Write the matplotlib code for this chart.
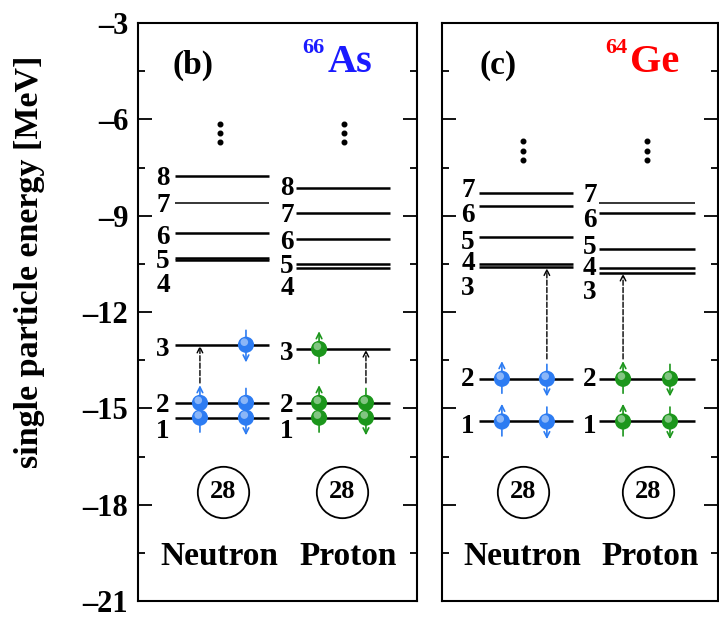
"""
single particle levels of 66As and 64Ge, neutron and proton columns
"""
import matplotlib
matplotlib.use("Agg")
import matplotlib.pyplot as plt
from matplotlib.ticker import MultipleLocator

plt.rcParams['font.family'] = ['Liberation Serif', 'DejaVu Serif']
plt.rcParams['font.weight'] = 'bold'

# level energies (MeV), bottom to top
b_neu_levels = [-15.29, -14.83, -13.02, -10.39, -10.33, -9.55, -8.59, -7.75]
b_pro_levels = [-15.29, -14.83, -13.15, -10.63, -10.51, -9.73, -8.93, -8.15]
c_neu_levels = [-15.41, -14.08, -10.61, -10.49, -9.67, -8.71, -8.28]
c_pro_levels = [-15.41, -14.08, -10.78, -10.62, -10.05, -8.93, -8.62]

# where the level numbers sit
b_neu_label_y = [-15.72, -14.92, -13.18, -11.18, -10.43, -9.67, -8.68, -7.84]
b_pro_label_y = [-15.72, -14.92, -13.30, -11.28, -10.58, -9.83, -8.99, -8.15]
c_neu_label_y = [-15.57, -14.11, -11.28, -10.49, -9.83, -8.99, -8.21]
c_pro_label_y = [-15.57, -14.11, -11.40, -10.65, -9.98, -9.15, -8.37]

# occupied states: (level index, slot 0=left 1=right, spin +1 up / -1 down)
b_neu_occ = [(0, 0, 1), (0, 1, -1), (1, 0, 1), (1, 1, -1), (2, 1, -1)]
b_pro_occ = [(0, 0, 1), (0, 1, -1), (1, 0, 1), (1, 1, -1), (2, 0, 1)]
c_neu_occ = [(0, 0, 1), (0, 1, -1), (1, 0, 1), (1, 1, -1)]
c_pro_occ = [(0, 0, 1), (0, 1, -1), (1, 0, 1), (1, 1, -1)]

# excitation arrows: (slot, from level, to level)
b_neu_exc = (0, 1, 2)
b_pro_exc = (1, 1, 2)
c_neu_exc = (1, 1, 2)
c_pro_exc = (0, 1, 2)

b_dots_y = [-6.13, -6.44, -6.72]
c_dots_y = [-6.69, -7.00, -7.28]

core = "28"
yticks = [-21, -18, -15, -12, -9, -6, -3]

BLUE = '#2d7cf2'
GREEN = '#1c961c'


def ball(ax, x, y, col):
    ax.scatter([x], [y], s=135, color=col, zorder=4, edgecolors='none')
    ax.scatter([x - 0.006], [y + 0.08], s=30, color='white', alpha=0.45,
               zorder=5, edgecolors='none')


def column(ax, levels, label_y, occ, exc, x0, x1, xlab, slots, col, thin):
    for i, e in enumerate(levels):
        lw = 1.1 if i in thin else 1.8
        ax.plot([x0, x1], [e, e], color='k', lw=lw, solid_capstyle='butt', zorder=2)
    for i, e in enumerate(label_y):
        ax.text(xlab, e, str(i + 1), ha='center', va='center', fontsize=19.5)
    for lev, s, spin in occ:
        x = slots[s]
        e = levels[lev]
        ax.annotate('', xy=(x, e + 0.55 * spin), xytext=(x, e - 0.45 * spin),
                    arrowprops=dict(arrowstyle='->', color=col, lw=1.2,
                                    shrinkA=0, shrinkB=0), zorder=3)
        ball(ax, x, e, col)
    s, lo, hi = exc
    ax.annotate('', xy=(slots[s], levels[hi] - 0.03),
                xytext=(slots[s], levels[lo] + 0.62),
                arrowprops=dict(arrowstyle='->', color='k', lw=1.0, ls='--',
                                shrinkA=0, shrinkB=0), zorder=3)


fig = plt.figure(figsize=(7.19, 6.18), dpi=100)
axb = fig.add_axes([138 / 719, 17 / 618, 279 / 719, 578 / 618])
axc = fig.add_axes([442 / 719, 17 / 618, 276 / 719, 578 / 618])

for ax in (axb, axc):
    ax.set_xlim(0, 1)
    ax.set_ylim(-21, -3)
    ax.set_xticks([])
    ax.set_yticks(yticks)
    ax.yaxis.set_minor_locator(MultipleLocator(1.5))
    ax.tick_params(axis='y', which='both', direction='in', left=True, right=True,
                   width=1.3)
    ax.tick_params(axis='y', which='major', length=10, pad=7, labelsize=22)
    ax.tick_params(axis='y', which='minor', length=5)
    for sp in ax.spines.values():
        sp.set_linewidth(1.5)
axc.tick_params(axis='y', labelleft=False)
axb.set_yticklabels([str(t).replace('-', '\u2013') for t in yticks])

# panel (b): 66As
column(axb, b_neu_levels, b_neu_label_y, b_neu_occ, b_neu_exc, 0.133, 0.470, 0.09,
       [0.222, 0.387], BLUE, thin=[6])
column(axb, b_pro_levels, b_pro_label_y, b_pro_occ, b_pro_exc, 0.566, 0.903, 0.534,
       [0.649, 0.817], GREEN, thin=[])
# panel (c): 64Ge
column(axc, c_neu_levels, c_neu_label_y, c_neu_occ, c_neu_exc, 0.134, 0.475, 0.094,
       [0.217, 0.380], BLUE, thin=[])
column(axc, c_pro_levels, c_pro_label_y, c_pro_occ, c_pro_exc, 0.569, 0.917, 0.536,
       [0.656, 0.826], GREEN, thin=[6])

for ax, dy, xs in ((axb, b_dots_y, [0.294, 0.738]), (axc, c_dots_y, [0.293, 0.743])):
    for x in xs:
        ax.plot([x] * len(dy), dy, 'o', color='k', ms=3.3)

# magic number circles and column names
for ax, xs in ((axb, [0.305, 0.731]), (axc, [0.293, 0.746])):
    for x in xs:
        ax.plot([x], [-17.59], 'o', ms=37, mfc='none', mec='k', mew=1.3)
        ax.text(x, -17.59, core, ha='center', va='center', fontsize=19)
for ax, xs in ((axb, [0.29, 0.753]), (axc, [0.29, 0.754])):
    ax.text(xs[0], -19.6, 'Neutron', ha='center', va='center', fontsize=24)
    ax.text(xs[1], -19.6, 'Proton', ha='center', va='center', fontsize=24)

axb.text(0.197, 0.927, '(b)', transform=axb.transAxes, ha='center', va='center',
         fontsize=24)
axb.text(0.63, 0.957, '66', transform=axb.transAxes, ha='center', va='center',
         fontsize=16, color='#1a1aff')
axb.text(0.76, 0.931, 'As', transform=axb.transAxes, ha='center', va='center',
         fontsize=29, color='#1a1aff')
axc.text(0.203, 0.927, '(c)', transform=axc.transAxes, ha='center', va='center',
         fontsize=24)
axc.text(0.633, 0.957, '64', transform=axc.transAxes, ha='center', va='center',
         fontsize=16, color='#ff0000')
axc.text(0.77, 0.931, 'Ge', transform=axc.transAxes, ha='center', va='center',
         fontsize=29, color='#ff0000')

fig.text(30 / 719, 1 - 262 / 618, 'single particle energy [MeV]', rotation=90,
         ha='center', va='center', fontsize=24.5)

fig.savefig('out.png', dpi=100)
